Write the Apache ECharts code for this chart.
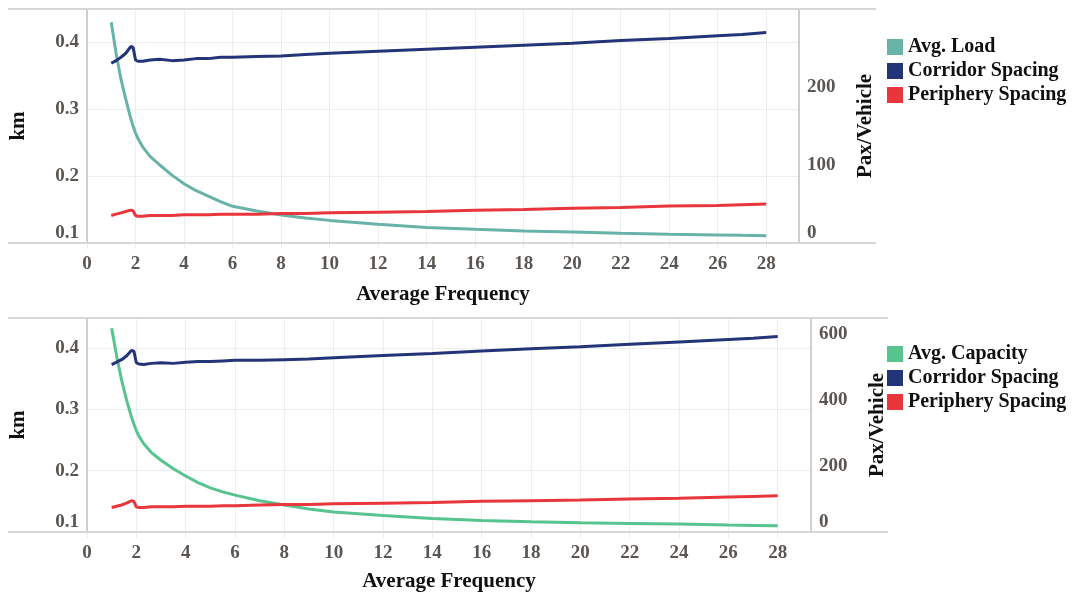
<!DOCTYPE html>
<html>
<head>
  <meta charset="utf-8">
  <title>Average Frequency</title>
  <script src="https://cdn.jsdelivr.net/npm/echarts@6/dist/echarts.min.js"></script>
  <style>
    html, body { margin: 0; padding: 0; background: #fff; }
    #main { width: 1073px; height: 595px; }
  </style>
</head>
<body>
  <div id="main"></div>
  <script>
    // x values (average frequency) shared by both panels
    const freq = [1, 1.2, 1.4, 1.6, 1.8, 1.9, 2.0, 2.1, 2.3, 2.6, 3, 3.5, 4, 4.5, 5, 5.5, 6, 7, 8, 9, 10, 12, 14, 16, 18, 20, 22, 24, 26, 27, 28]

    // top panel
    const avgLoad = [283, 243, 210, 184, 160, 150, 141, 134, 123, 111, 100, 87, 76, 67, 60, 53, 47, 41, 36, 32, 29, 24, 20, 17.5, 15.5, 14, 12.5, 11.3, 10.3, 9.8, 9.4]
    const corridorTop = [0.368, 0.372, 0.377, 0.383, 0.393, 0.392, 0.373, 0.371, 0.371, 0.373, 0.374, 0.372, 0.373, 0.375, 0.375, 0.377, 0.377, 0.378, 0.379, 0.381, 0.383, 0.386, 0.389, 0.392, 0.395, 0.398, 0.402, 0.405, 0.409, 0.411, 0.414]
    const peripheryTop = [0.141, 0.143, 0.145, 0.147, 0.149, 0.148, 0.141, 0.140, 0.140, 0.141, 0.141, 0.141, 0.142, 0.142, 0.142, 0.143, 0.143, 0.143, 0.144, 0.144, 0.145, 0.146, 0.147, 0.149, 0.150, 0.152, 0.153, 0.155, 0.156, 0.157, 0.158]

    // bottom panel
    const avgCapacity = [619, 535, 462, 402, 350, 328, 308, 292, 268, 242, 218, 192, 170, 150, 134, 122, 112, 95, 82, 70, 61, 50, 41, 35, 31, 28, 26, 24, 21, 20, 19]
    const corridorBottom = [0.373, 0.377, 0.381, 0.387, 0.396, 0.395, 0.376, 0.374, 0.373, 0.375, 0.376, 0.375, 0.377, 0.378, 0.378, 0.379, 0.380, 0.380, 0.381, 0.382, 0.384, 0.388, 0.391, 0.395, 0.399, 0.402, 0.406, 0.410, 0.414, 0.416, 0.419]
    const peripheryBottom = [0.140, 0.142, 0.144, 0.147, 0.151, 0.150, 0.141, 0.140, 0.140, 0.141, 0.141, 0.141, 0.142, 0.142, 0.142, 0.143, 0.143, 0.144, 0.145, 0.145, 0.146, 0.147, 0.148, 0.150, 0.151, 0.152, 0.154, 0.155, 0.157, 0.158, 0.159]

    const legendTop = ['Avg. Load', 'Corridor Spacing', 'Periphery Spacing']
    const legendBottom = ['Avg. Capacity', 'Corridor Spacing', 'Periphery Spacing']

    const FONT = "'Liberation Serif', 'Times New Roman', serif"
    const TEAL = '#67b3a8'
    const NAVY = '#233479'
    const RED = '#e8363c'
    const GREEN = '#57c48f'

    const pairs = (vals) => freq.map((f, i) => [f, vals[i]])

    const tickLabel = {
      fontFamily: FONT, fontWeight: 'bold', fontSize: 19, color: '#5a5550'
    }
    const nameStyle = {
      fontFamily: FONT, fontWeight: 'bold', fontSize: 21, color: '#111'
    }

    function xAxisFor(gridIndex, gap) {
      return {
        type: 'value', gridIndex: gridIndex,
        min: 0, max: 29.35, interval: 2,
        name: 'Average Frequency', nameLocation: 'middle', nameGap: gap,
        nameTextStyle: nameStyle,
        axisLine: { show: false },
        axisTick: { show: true, length: 6, lineStyle: { color: '#ececec' } },
        axisLabel: Object.assign({ margin: 12, showMaxLabel: false }, tickLabel),
        splitLine: { show: true, lineStyle: { color: '#eeeeee', width: 1 } }
      }
    }

    function kmAxis(gridIndex) {
      return {
        type: 'value', gridIndex: gridIndex, position: 'left',
        min: 0.1, max: 0.449, interval: 0.1,
        name: 'km', nameLocation: 'middle', nameGap: 58,
        nameTextStyle: nameStyle,
        axisLine: { show: true, lineStyle: { color: '#cfcfcf', width: 2 } },
        axisTick: { show: false },
        axisLabel: Object.assign({
          margin: 8, showMaxLabel: false, verticalAlignMinLabel: 'bottom',
          formatter: (v) => v.toFixed(1)
        }, tickLabel),
        splitLine: { show: true, lineStyle: { color: '#eeeeee', width: 1 } }
      }
    }

    function paxAxis(gridIndex, max, interval) {
      return {
        type: 'value', gridIndex: gridIndex, position: 'right',
        min: 0, max: max, interval: interval,
        name: 'Pax/Vehicle', nameLocation: 'middle', nameGap: 56,
        nameTextStyle: nameStyle,
        axisLine: { show: true, lineStyle: { color: '#cfcfcf', width: 2 } },
        axisTick: { show: false },
        axisLabel: Object.assign({
          margin: 8, showMaxLabel: false, verticalAlignMinLabel: 'bottom'
        }, tickLabel),
        splitLine: { show: false }
      }
    }

    function line(name, xi, yi, vals, color) {
      return {
        name: name, type: 'line', xAxisIndex: xi, yAxisIndex: yi,
        data: pairs(vals), showSymbol: false, smooth: false,
        lineStyle: { color: color, width: 3 }, itemStyle: { color: color }
      }
    }

    // border rules above and below each panel
    function rule(y, x2) {
      return {
        type: 'line', shape: { x1: 8, y1: y, x2: x2, y2: y },
        style: { stroke: '#d6d6d6', lineWidth: 2 }, z: 10
      }
    }

    const legendBase = {
      orient: 'vertical', left: 882, itemWidth: 16, itemHeight: 16, itemGap: 4,
      icon: 'rect', selectedMode: false,
      textStyle: { fontFamily: FONT, fontWeight: 'bold', fontSize: 20, color: '#111' }
    }

    const myChart = echarts.init(document.getElementById('main'))

    const option = {
      animation: false,
      grid: [
        { left: 85, top: 9, width: 714, height: 234 },
        { left: 85, top: 318, width: 726, height: 214 }
      ],
      xAxis: [xAxisFor(0, 41), xAxisFor(1, 39)],
      yAxis: [kmAxis(0), paxAxis(0, 300, 100), kmAxis(1), paxAxis(1, 650, 200)],
      legend: [
        Object.assign({ top: 32, data: legendTop }, legendBase),
        Object.assign({ top: 339, data: legendBottom }, legendBase)
      ],
      graphic: [rule(9, 876), rule(243, 876), rule(318, 888), rule(532, 888)],
      series: [
        line('Avg. Load', 0, 1, avgLoad, TEAL),
        line('Corridor Spacing', 0, 0, corridorTop, NAVY),
        line('Periphery Spacing', 0, 0, peripheryTop, RED),
        line('Avg. Capacity', 1, 3, avgCapacity, GREEN),
        line('Corridor Spacing', 1, 2, corridorBottom, NAVY),
        line('Periphery Spacing', 1, 2, peripheryBottom, RED)
      ]
    }

    myChart.setOption(option)
  </script>
</body>
</html>
